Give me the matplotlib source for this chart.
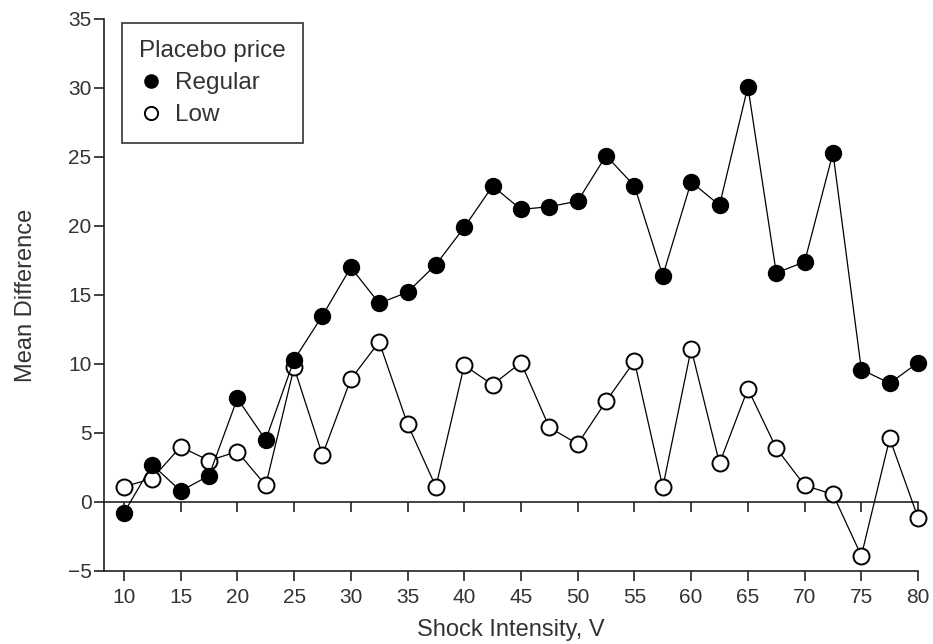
import matplotlib
matplotlib.use("Agg")
import matplotlib.pyplot as plt
from matplotlib.lines import Line2D

plt.rcParams['font.family'] = ['Liberation Sans', 'DejaVu Sans']

shock = [10, 12.5, 15, 17.5, 20, 22.5, 25, 27.5, 30, 32.5, 35, 37.5, 40, 42.5,
         45, 47.5, 50, 52.5, 55, 57.5, 60, 62.5, 65, 67.5, 70, 72.5, 75, 77.5, 80]
regular = [-0.8, 2.7, 0.8, 1.9, 7.5, 4.5, 10.3, 13.5, 17.0, 14.4, 15.2, 17.2, 19.9, 22.9,
           21.2, 21.4, 21.8, 25.1, 22.9, 16.4, 23.2, 21.5, 30.1, 16.6, 17.4, 25.3, 9.6, 8.6, 10.1]
low = [1.1, 1.7, 4.0, 3.0, 3.65, 1.2, 9.75, 3.4, 8.9, 11.6, 5.65, 1.1, 9.9, 8.5,
       10.1, 5.4, 4.2, 7.3, 10.2, 1.07, 11.1, 2.8, 8.2, 3.9, 1.2, 0.55, -3.9, 4.6, -1.15]

xticks = [10, 15, 20, 25, 30, 35, 40, 45, 50, 55, 60, 65, 70, 75, 80]
yticks = [-5, 0, 5, 10, 15, 20, 25, 30, 35]
ytick_labels = ['\u22125', '0', '5', '10', '15', '20', '25', '30', '35']

txt = '#333333'
fig = plt.figure(figsize=(9.33, 6.44), dpi=100)
ax = fig.add_axes([0.1115, 0.1134, 0.8725, 0.8571])

ax.plot(shock, low, color='black', lw=0.9, marker='o', markersize=11.5,
        markerfacecolor='white', markeredgecolor='black', markeredgewidth=1.4,
        zorder=3, clip_on=False)
ax.plot(shock, regular, color='black', lw=0.9, marker='o', markersize=11.5,
        markerfacecolor='black', markeredgecolor='black', markeredgewidth=1.0,
        zorder=4, clip_on=False)

ax.set_xlim(8.25, 80)
ax.set_ylim(-5, 35)
ax.set_xticks(xticks)
ax.set_yticks(yticks)
ax.set_yticklabels(ytick_labels)

ax.spines['right'].set_visible(False)
ax.spines['top'].set_position(('data', 0))
for s in ['left', 'bottom', 'top']:
    ax.spines[s].set_linewidth(1.2)
    ax.spines[s].set_color('#222222')

ax.tick_params(axis='x', which='both', bottom=True, top=True, labelbottom=True,
               labeltop=False, length=7, width=1.2,
               labelsize=15, labelcolor=txt, color='#222222', pad=5)
ax.tick_params(axis='y', direction='out', length=7, width=1.2, labelsize=15,
               labelcolor=txt, color='#222222', pad=2)
# ticks on the bottom axis and on the zero line both point down
for t in ax.xaxis.get_major_ticks():
    t.tick2line.set_marker(3)  # TICKDOWN
    t.tick2line.set_markersize(7)
    t.tick1line.set_marker(3)
    t.tick1line.set_markersize(7)

ax.set_xlabel('Shock Intensity, V', fontsize=17, color=txt, labelpad=9)
ax.set_ylabel('Mean Difference', fontsize=17, color=txt, labelpad=22)

handles = [Line2D([], [], ls='none', marker='o', markersize=9.5, markerfacecolor='black',
                  markeredgecolor='black'),
           Line2D([], [], ls='none', marker='o', markersize=9.5, markerfacecolor='white',
                  markeredgecolor='black', markeredgewidth=1.4)]
leg = ax.legend(handles, ['Regular', 'Low'], title='Placebo price', loc='upper left',
                bbox_to_anchor=(0.022, 0.993), fontsize=17.5, title_fontsize=17.5,
                frameon=True, fancybox=False, edgecolor='black', handletextpad=0.5,
                borderpad=0.7, labelspacing=0.42, handlelength=1.0, alignment='left',
                borderaxespad=0.0)
leg.get_frame().set_linewidth(1.2)
for t in leg.get_texts():
    t.set_color(txt)
leg.get_title().set_color(txt)

fig.savefig('out.png', dpi=100)
